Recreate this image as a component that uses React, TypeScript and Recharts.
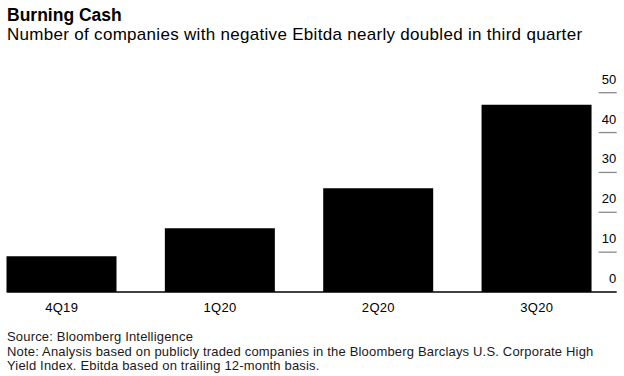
import React from 'react';
import { BarChart, Bar, XAxis, YAxis } from 'recharts';

const quarters = ['4Q19', '1Q20', '2Q20', '3Q20'];
const negativeEbitda = [9, 16, 26, 47];
const yTicks = [0, 10, 20, 30, 40, 50];

const data = quarters.map((q, i) => ({ quarter: q, count: negativeEbitda[i] }));

const font = '"Liberation Sans", Arial, Helvetica, sans-serif';

const XTick = (props: any) => {
  const { x, y, payload } = props;
  return (
    <text x={x} y={y + 19.5} textAnchor="middle" fontSize={13} letterSpacing={0.3} fill="#000" fontFamily={font}>
      {payload.value}
    </text>
  );
};

// y axis sits on the right edge; labels float above short gray rules
const YTick = (props: any) => {
  const { x, y, payload } = props;
  return (
    <g>
      {payload.value !== 0 && (
        <line x1={x - 18} x2={x} y1={y} y2={y} stroke="#8a8a8a" strokeWidth={1.3} />
      )}
      <text x={x - 0.5} y={y - 9} textAnchor="end" fontSize={13} fill="#000" fontFamily={font}>
        {payload.value}
      </text>
    </g>
  );
};

const App: React.FC = () => {
  return (
    <div style={{ position: 'absolute', left: 0, top: 0, width: 624, height: 376, background: '#fff', fontFamily: font }}>
      <div style={{ position: 'absolute', left: 7, top: 5.9, fontSize: 17.5, lineHeight: '18px', fontWeight: 700, color: '#000' }}>
        Burning Cash
      </div>
      <div style={{ position: 'absolute', left: 7, top: 26.6, fontSize: 17, letterSpacing: 0.3, lineHeight: '16px', color: '#000', whiteSpace: 'nowrap' }}>
        Number of companies with negative Ebitda nearly doubled in third quarter
      </div>

      <div style={{ position: 'absolute', left: 0, top: 0 }}>
        <BarChart
          width={624}
          height={320}
          data={data}
          margin={{ top: 92.7, right: 6.3, left: 6.7, bottom: 0 }}
        >
          <XAxis
            dataKey="quarter"
            height={28}
            padding={{ left: -24.2, right: 0.8 }}
            axisLine={{ stroke: '#000', strokeWidth: 1.5 }}
            tickLine={false}
            tickSize={0}
            tickMargin={0}
            tick={<XTick />}
            interval={0}
          />
          <YAxis
            orientation="right"
            width={1}
            domain={[0, 50]}
            ticks={yTicks}
            axisLine={false}
            tickLine={false}
            tickSize={0}
            tickMargin={0}
            tick={<YTick />}
            interval={0}
          />
          <Bar dataKey="count" fill="#000" barSize={110} isAnimationActive={false} />
        </BarChart>
      </div>

      <div style={{ position: 'absolute', left: 7, top: 330, fontSize: 13, letterSpacing: 0.18, lineHeight: '14.5px', color: '#1a1a1a', width: 610, whiteSpace: 'nowrap' }}>
        <div>Source: Bloomberg Intelligence</div>
        <div>Note: Analysis based on publicly traded companies in the Bloomberg Barclays U.S. Corporate High</div>
        <div>Yield Index. Ebitda based on trailing 12-month basis.</div>
      </div>
    </div>
  );
};

export default App;
